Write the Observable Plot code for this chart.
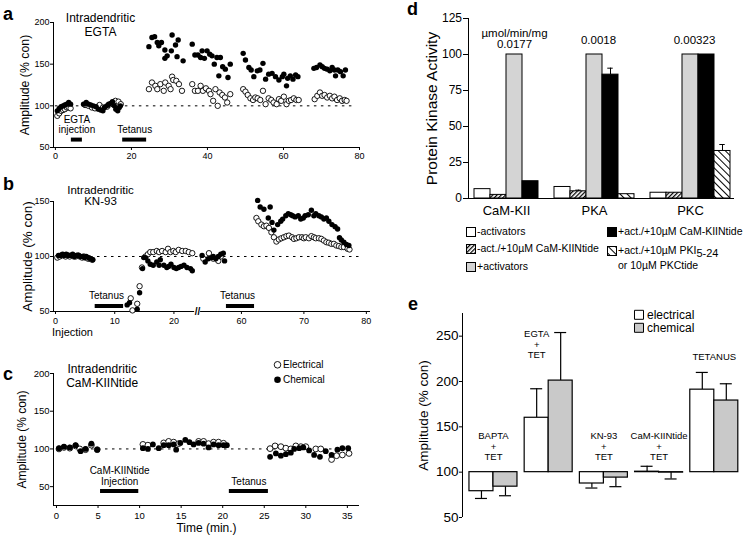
<!DOCTYPE html>
<html><head><meta charset="utf-8">
<script src="https://cdn.jsdelivr.net/npm/d3@7"></script>
<script src="https://cdn.jsdelivr.net/npm/@observablehq/plot@0.6"></script>
<style>
body{margin:0;background:#fff;}
#fig{position:relative;width:751px;height:544px;overflow:hidden;font-family:"Liberation Sans",Arial,Helvetica,sans-serif;color:#000;background:#fff;}
.letter{position:absolute;font-weight:bold;font-size:18px;line-height:1;}
.leg{position:absolute;font-size:10.5px;line-height:11px;white-space:nowrap;}
.sw{position:absolute;}
</style></head>
<body>
<svg width="0" height="0" style="position:absolute"><defs>
<pattern id="hatchDense" width="3" height="3" patternUnits="userSpaceOnUse" patternTransform="rotate(45)"><rect width="3" height="3" fill="#fff"/><line x1="0.6" y1="0" x2="0.6" y2="3" stroke="#000" stroke-width="1.3"/></pattern>
<pattern id="hatchWide" width="5" height="5" patternUnits="userSpaceOnUse" patternTransform="rotate(-45)"><rect width="5" height="5" fill="#fff"/><line x1="0.5" y1="0" x2="0.5" y2="5" stroke="#000" stroke-width="1"/></pattern>
</defs></svg>
<div id="fig"></div>
<script>
// ---------- Panel a data (time in min, amplitude % con) ----------
const aElectrical = [[0.5,88],[1,91],[1.5,94],[2,95],[2.5,96],[3,98],[3.5,98],[4,97],
[7.8,101],[8.7,100],[9.6,98],[10.4,97],[11.6,101],[12.5,98],[13.6,99],[14.5,102],[15.2,104],[15.8,106],[16.6,105],[17.2,102],
[24.6,120],[25.4,128],[26.3,124],[26.8,120],[27.6,126],[28.5,118],[28.9,128],[29.8,124],[30.3,120],[30.7,135],[31,131],[31.8,130],[32.5,126],[33.3,118],
[36,126],[36.7,118],[37.5,118],[38.2,124],[38.8,118],[39.6,121],[40.4,118],[40.8,114],[41.5,106],[42.1,120],[42.7,100],[43.2,116],[43.9,113],[44.6,110],[45.2,104],[46,114],
[49.4,120],[50,117],[50.6,113],[51.3,109],[52,107],[52.6,110],[53.2,109],[53.9,107],[54.6,118],[55.3,102],[56.1,109],[56.8,107],[57.4,104],[58.2,102],[58.8,108],[59.4,106],[60.1,111],[60.8,102],[61.4,106],[62,107],[62.7,109],[63.4,107],[64,107],
[68.2,108],[68.9,112],[69.6,116],[70.2,112],[70.8,113],[71.5,110],[72.2,112],[72.8,109],[73.4,111],[74.1,107],[74.8,109],[75.4,106],[76.1,107],[76.6,106]];
const aChemical = [[0.5,94],[1,97],[1.5,99],[2,100],[2.5,101],[3,102],[3.5,104],[4,102],
[7.4,102],[8.1,104],[8.7,102],[9.3,101],[10,100],[10.7,99],[11.3,96],[11.9,95],[12.5,94],[12.9,98],[13.5,100],[14,102],[14.6,103],[15,105],[15.5,100],[15.9,96],[16.4,94],[16.8,98],[17.1,100],
[24.6,171],[25.4,182],[26.1,183],[26.8,176],[27.2,172],[27.9,176],[28.8,167],[28.8,157],[29.4,160],[30.5,166],[30.7,185],[31.6,173],[32,159],[32.3,179],[33.6,154],
[36,174],[36.7,161],[37.5,161],[38.2,158],[38.6,166],[39.2,157],[39.9,166],[40.6,162],[41.2,160],[41.8,150],[42.5,158],[43,136],[43.4,158],[44,147],[44.7,144],[45.4,134],[46,150],
[49.4,163],[50,155],[50.9,146],[51.5,143],[52.2,135],[53.1,142],[53.8,143],[54.6,151],[55.3,132],[56.1,138],[57,139],[57.9,135],[58.8,131],[59.7,135],[60.1,138],[60.8,124],[61.1,133],[61.8,136],[62.5,132],[63.2,137],[63.8,135],
[68,145],[68.7,146],[69.6,149],[70.2,147],[70.8,145],[71.5,144],[72.2,142],[72.8,146],[73.4,143],[73.7,136],[74.3,143],[75,141],[75.7,136],[76.3,143]];
const aEventLabels = ["EGTA\ninjection", "Tetanus"];
const aEventStart = [4.2, 17.7];
const aEventEnd = [7.1, 24];
const aXTicks = [0, 20, 40, 60, 80];
const aYTicks = [50, 100, 150, 200];

// ---------- Panel b data ----------
const bElectrical = [[0.3,99],[0.7,100],[1.0,101],[1.4,101],[1.7,100],[2.1,101],[2.4,100],[2.8,101],[3.1,100],[3.4,100],[3.8,101],[4.1,100],[4.5,99],[4.8,100],[5.1,99],[5.5,98],[5.8,98],[6.2,97],
[12.7,62],[13.0,51],[13.8,57],[14.2,73],[14.6,90],
[15.2,100],[15.6,102],[16,104],[16.5,104],[17.1,105],[17.5,104],[18,105],[18.6,104],[19,107],[19.4,104],[19.9,105],[20.3,104],[20.8,106],[21.4,105],[22,105],[22.5,104],[23.1,103],
[53.9,98],[54.8,103],[55.5,98],[56.3,96],[56.7,100],
[62.4,135],[62.7,132],[63.2,129],[63.6,127.5],[64.0,128],[64.4,126],[64.8,122],[65.2,117.5],[65.6,113.6],[66.0,115.5],[66.4,116.6],[66.8,117.5],[67.2,118.5],[67.6,119],[68.1,117.5],[68.4,116],[68.8,116.6],[69.2,117.5],[69.7,117.5],[70.0,116.6],[70.3,117.5],[70.8,116.6],[71.2,118.5],[71.6,117.5],[71.9,116.6],[72.4,116.6],[72.8,116],[73.2,114.5],[73.6,113],[74.0,112.5],[74.4,111.5],[74.8,111.5],[75.2,110],[75.6,109.5],[76.0,108.6],[76.4,108.6],[77.0,107],[77.3,106.4]];
const bChemical = [[0.5,101],[0.8,101],[1.2,102],[1.5,101],[1.8,102],[2.2,101],[2.5,101],[2.9,102],[3.2,100],[3.5,101],[3.9,101],[4.2,100],[4.6,100],[4.9,99],[5.2,100],[5.6,99],[5.9,98],[6.3,97],
[12.1,56],[12.5,58],[13.8,52],[14.2,67],[14.7,89],
[14.9,99],[15.2,99],[15.6,96],[16,93],[16.5,92],[17.1,95],[17.5,92],[17.7,97],[18.3,92],[18.8,90],[19.1,91],[19.5,93],[20,90],[20.4,89],[20.8,90],[21.2,91],[21.7,92],[22.2,90],[22.8,89],[23.1,87],
[53.7,101],[54.2,95],[54.7,98],[55.3,99],[55.5,100],[55.9,98],[56.3,100],[56.7,102],[57.1,103],[57.3,96],
[62.6,151],[63.0,145],[63.6,143],[64.3,135],[64.6,145],[64.9,131],[65.2,124],[65.8,129],[66.3,132],[66.6,134],[67.1,137],[67.5,139],[67.9,138],[68.2,137],[68.6,136],[69.1,137],[69.5,134],[69.9,135],[70.2,137],[70.7,138],[71.2,142],[71.6,137],[71.9,139],[72.4,137],[72.8,136],[73.2,134],[73.6,135],[74.0,132],[74.5,129],[75.0,127],[75.4,125],[75.7,117],[76.0,115],[76.4,113],[76.8,111],[77.2,110]];
const bEventLabels = ["Tetanus", "Tetanus"];
const bEventStart = [6.7, 57.6];
const bEventEnd = [11.5, 62.1];
const bXTicks = [0, 10, 20, 60, 70, 80];
const bYTicks = [50, 100, 150];

// ---------- Panel c data ----------
const cElectrical = [[0.3,100],[0.9,102],[1.6,101],[2.3,104],[2.8,100],[3.5,99],[4.2,105],[4.9,99],
[10.4,106],[11,105],[12.9,108],[13.5,110],[14.1,109],[14.7,107],[17.1,110],[17.7,110],[18.3,107],[18.9,109],[19.5,109],[20.1,107.5],
[25.7,100.4],[26.3,104],[27,103],[27.6,101],[28.2,100],[28.8,104],[29.4,103],[30,103],[31.2,100],[31.8,100],[33.1,86],[33.7,91],[34.4,92],[35.2,94]];
const cChemical = [[0.3,101],[0.9,103],[1.6,102],[2.3,105],[2.9,97],[3.5,100],[4.2,107],[4.9,99],
[10.4,101],[11,100],[11.6,106],[12.3,101],[12.9,105],[13.5,105],[14.1,106],[14.4,99],[14.9,108],[15.5,112],[16,109],[16.5,106],[17.1,108],[17.7,107],[18.3,102],[18.9,106],[19.5,105],[20.1,105],[20.5,105],
[25.7,89.5],[26.4,94],[27,91],[27.6,93],[28.2,95],[28.6,100],[29.2,101],[29.7,102],[30.4,98],[31,92],[31.7,89.5],[32.4,97],[33.1,92],[33.8,99],[34.4,101],[35.1,101]];
const cEventLabels = ["CaM-KIINtide\nInjection", "Tetanus"];
const cEventStart = [5.3, 20.8];
const cEventEnd = [9.9, 25.5];
const cXTicks = [0, 5, 10, 15, 20, 25, 30, 35];
const cYTicks = [50, 100, 150, 200];

// ---------- Panel d data ----------
const dKinases = ["CaM-KII", "PKA", "PKC"];
const dSeriesNames = ["-activators", "-act./+10µM CaM-KIINtide", "+activators", "+act./+10µM CaM-KIINtide", "+act./+10µM PKI5-24 or 10µM PKCtide"];
const dMinusAct = [6.5, 8, 4];
const dMinusActNtide = [2.5, 5, 4];
const dPlusAct = [100, 100, 100];
const dPlusActNtide = [12, 86, 100];
const dPlusActPKI = [null, 3, 33];
const dErrMinusActNtide = [0, 0.8, 0];
const dErrPlusActNtide = [0, 4.5, 0];
const dErrPlusActPKI = [null, 0, 4.5];
const dSpecificActivity = ["0.0177", "0.0018", "0.00323"];
const dActivityUnit = "µmol/min/mg";
const dYTicks = [0, 25, 50, 75, 100, 125];

// ---------- Panel e data ----------
const eConditions = ["BAPTA\n+\nTET", "EGTA\n+\nTET", "KN-93\n+\nTET", "CaM-KIINtide\n+\nTET", "TETANUS"];
const eElectrical = [79, 160, 87.5, 100.5, 191];
const eElectricalErr = [8, 32, 5, 6, 19];
const eChemical = [84, 201, 94, 99.5, 179];
const eChemicalErr = [10, 53, 10, 7, 18.5];
const eYTicks = [50, 100, 150, 200, 250];

// ---------- helpers ----------
const FONT = '"Liberation Sans", Arial, Helvetica, sans-serif';
const fig = document.getElementById("fig");
function put(node, left, top) { node.style.position = "absolute"; node.style.left = left + "px"; node.style.top = top + "px"; fig.appendChild(node); }
const styleStr = fs => `background:transparent;font-family:${FONT};font-size:${fs}px;overflow:visible;color:#000;`;
const events = (labels, s, e) => labels.map((label, i) => ({label, start: s[i], end: e[i]}));
const px = d => d[0], py = d => d[1];
const C = {textAnchor: "middle", lineAnchor: "middle"};
const L = {textAnchor: "start", lineAnchor: "middle"};
const yLabel = (text, dx, fontSize) => Plot.text([text], {frameAnchor: "left", rotate: -90, dx, fontSize, ...C});

// ---------- Panel a ----------
const aEv = events(aEventLabels, aEventStart, aEventEnd);
put(Plot.plot({
  width: 375, height: 170, marginLeft: 53, marginRight: 16, marginTop: 22, marginBottom: 23,
  style: styleStr(9),
  x: {domain: [-0.5, 80]}, y: {domain: [50, 200]},
  marks: [
    Plot.ruleY([100], {x1: 0, x2: 78.5, stroke: "#000", strokeWidth: 1, strokeDasharray: "2.5,4.5"}),
    Plot.ruleX([-0.5], {stroke: "#000"}), Plot.ruleY([50], {stroke: "#000"}),
    Plot.axisX({ticks: aXTicks, tickSize: 3, tickPadding: 2, label: null, fontSize: 9}),
    Plot.axisY({ticks: aYTicks, tickSize: 3, tickPadding: 1, label: null, fontSize: 9}),
    Plot.dot(aElectrical, {x: px, y: py, r: 2.7, fill: "white", stroke: "black", strokeWidth: 0.9}),
    Plot.dot(aChemical, {x: px, y: py, r: 2.7, fill: "black"}),
    Plot.ruleY(aEv, {x1: "start", x2: "end", y: 59.5, stroke: "black", strokeWidth: 4}),
    Plot.text(aEv, {x: d => (d.start + d.end) / 2, y: 59.5, text: "label", textAnchor: "middle", lineAnchor: "bottom", dy: -6.5, fontSize: 10, lineHeight: 1}),
    Plot.text(["Intradendritic\nEGTA"], {frameAnchor: "top-left", dx: 47, dy: 2, fontSize: 12, lineHeight: 1.15, ...C}),
    yLabel("Amplitude (% con)", -28, 12.3)
  ]
}), 0, 0);

// ---------- Panel b (broken time axis) ----------
const bWarp = t => t < 40 ? t : 31.4 + (t - 60) * 1.055;
const bTickPos = bXTicks.map(bWarp);
const bTickLabel = new Map(bTickPos.map((v, i) => [v, String(bXTicks[i])]));
const bEv = events(bEventLabels, bEventStart, bEventEnd);
const bx = d => bWarp(d[0]);
put(Plot.plot({
  width: 375, height: 165, marginLeft: 53, marginRight: 5, marginTop: 26, marginBottom: 29,
  style: styleStr(9),
  x: {domain: [-0.34, 53.2]}, y: {domain: [50, 150]},
  marks: [
    Plot.ruleY([100], {x1: 0, x2: bWarp(79.5), stroke: "#000", strokeWidth: 1, strokeDasharray: "2.5,4.5"}),
    Plot.ruleX([-0.34], {stroke: "#000"}), Plot.ruleY([50], {stroke: "#000"}),
    Plot.ruleY([50], {x1: 23.5, x2: 24.5, stroke: "white", strokeWidth: 3}),
    Plot.text(["//"], {x: 24, y: 50, fontSize: 10, fontWeight: "bold"}),
    Plot.axisX({ticks: bTickPos, tickFormat: v => bTickLabel.get(v) ?? "", tickSize: 3, tickPadding: 3, label: null, fontSize: 9}),
    Plot.axisY({ticks: bYTicks, tickSize: 3, tickPadding: 1, label: null, fontSize: 9}),
    Plot.dot(bElectrical, {x: bx, y: py, r: 2.7, fill: "white", stroke: "black", strokeWidth: 0.9}),
    Plot.dot(bChemical, {x: bx, y: py, r: 2.7, fill: "black"}),
    Plot.ruleY(bEv, {x1: d => bWarp(d.start), x2: d => bWarp(d.end), y: 55, stroke: "black", strokeWidth: 4}),
    Plot.text(bEv, {x: d => bWarp((d.start + d.end) / 2) - 0.5, y: 55, text: "label", textAnchor: "middle", lineAnchor: "bottom", dy: -7, fontSize: 10}),
    Plot.text(["Injection"], {frameAnchor: "bottom-left", dx: 19, dy: 20.7, fontSize: 11, ...C}),
    Plot.text(["Intradendritic\nKN-93"], {frameAnchor: "top-left", dx: 47, dy: -5.5, fontSize: 11.5, lineHeight: 1.0, ...C}),
    yLabel("Amplitude (% con)", -26, 13.5)
  ]
}), 0, 175);

// ---------- Panel c ----------
const cEv = events(cEventLabels, cEventStart, cEventEnd);
put(Plot.plot({
  width: 375, height: 204, marginLeft: 53, marginRight: 16, marginTop: 33, marginBottom: 39,
  style: styleStr(9.5),
  x: {domain: [-0.36, 36.46]}, y: {domain: [25, 200]},
  marks: [
    Plot.ruleY([100], {x1: 0, x2: 35.5, stroke: "#000", strokeWidth: 1, strokeDasharray: "2.5,4.5"}),
    Plot.ruleX([-0.36], {stroke: "#000"}), Plot.ruleY([25], {stroke: "#000"}),
    Plot.axisX({ticks: cXTicks, tickSize: 3, tickPadding: 3.5, label: null, fontSize: 9.5}),
    Plot.axisY({ticks: cYTicks, tickSize: 3, tickPadding: 1, label: null, fontSize: 9.5}),
    Plot.dot(cElectrical, {x: px, y: py, r: 2.9, fill: "white", stroke: "black", strokeWidth: 0.9}),
    Plot.dot(cChemical, {x: px, y: py, r: 2.9, fill: "black"}),
    Plot.ruleY(cEv, {x1: "start", x2: "end", y: 44.3, stroke: "black", strokeWidth: 4}),
    Plot.text(cEv, {x: d => (d.start + d.end) / 2, y: 44.3, text: "label", textAnchor: "middle", lineAnchor: "bottom", dy: -6, fontSize: 10, lineHeight: 1.1}),
    Plot.text(["Intradendritic\nCaM-KIINtide"], {frameAnchor: "top-left", dx: 48.7, dy: 2.3, fontSize: 12, lineHeight: 1.14, ...C}),
    Plot.dot(["Electrical"], {frameAnchor: "top-left", dx: 224, dy: -8.7, r: 3.3, fill: "white", stroke: "black", strokeWidth: 0.9}),
    Plot.dot(["Chemical"], {frameAnchor: "top-left", dx: 224, dy: 6.3, r: 3.3, fill: "black"}),
    Plot.text(["Electrical"], {frameAnchor: "top-left", dx: 229.5, dy: -8.7, fontSize: 10, ...L}),
    Plot.text(["Chemical"], {frameAnchor: "top-left", dx: 229.5, dy: 6.3, fontSize: 10, ...L}),
    Plot.text(["Time (min.)"], {frameAnchor: "bottom", dy: 22.5, fontSize: 12, ...C}),
    yLabel("Amplitude (% con)", -31, 12)
  ]
}), 0, 340);

// ---------- Panel d ----------
const dValues = [dMinusAct, dMinusActNtide, dPlusAct, dPlusActNtide, dPlusActPKI];
const dErrors = [null, dErrMinusActNtide, null, dErrPlusActNtide, dErrPlusActPKI];
const dFills = ["white", "url(#hatchDense)", "#d4d4d4", "black", "url(#hatchWide)"];
const dBars = [], dCenters = [];
let slot = 0;
dKinases.forEach((k, g) => {
  const start = slot; let j = 0;
  dValues.forEach((vals, s) => {
    const v = vals[g];
    if (v == null) return;
    dBars.push({kinase: k, group: g, series: s, value: v, err: (dErrors[s] && dErrors[s][g]) || 0, x1: start + j, x2: start + j + 1});
    j++;
  });
  dCenters.push((2 * start + j) / 2);
  slot = start + j + 1;
});
const dCenterName = new Map(dCenters.map((c, i) => [c, dKinases[i]]));
const dErrBars = dBars.filter(b => b.err > 0);
const dGray = dBars.filter(b => b.series === 2);
put(Plot.plot({
  width: 361, height: 220, marginLeft: 78, marginRight: 17, marginTop: 18, marginBottom: 22,
  style: styleStr(12),
  x: {domain: [-0.375, 16.25]}, y: {domain: [0, 125]},
  marks: [
    ...dFills.map((f, s) => Plot.rect(dBars.filter(b => b.series === s), {x1: "x1", x2: "x2", y1: 0, y2: "value", fill: f, stroke: "black", strokeWidth: 1})),
    Plot.ruleX(dErrBars, {x: d => (d.x1 + d.x2) / 2, y1: "value", y2: d => d.value + d.err, stroke: "black", strokeWidth: 1}),
    Plot.ruleY(dErrBars, {y: d => d.value + d.err, x1: d => (d.x1 + d.x2) / 2 - 0.17, x2: d => (d.x1 + d.x2) / 2 + 0.17, stroke: "black", strokeWidth: 1}),
    Plot.ruleX([-0.375], {stroke: "#000"}), Plot.ruleY([0], {stroke: "#000"}),
    Plot.axisY({ticks: dYTicks, tickSize: 5, tickPadding: 1.5, label: null, fontSize: 12}),
    Plot.axisX({ticks: dCenters, tickFormat: v => dCenterName.get(v) ?? "", tickSize: 0, tickPadding: 7, label: null, fontSize: 13}),
    Plot.text(dGray.filter(b => b.group === 0), {x: d => (d.x1 + d.x2) / 2, y: 100, text: d => dActivityUnit + "\n" + dSpecificActivity[d.group], textAnchor: "middle", lineAnchor: "bottom", dy: -7, fontSize: 11.5, lineHeight: 0.95}),
    Plot.text(dGray.filter(b => b.group > 0), {x: d => (d.x1 + d.x2) / 2 + 0.25, y: 100, text: d => dSpecificActivity[d.group], textAnchor: "middle", lineAnchor: "bottom", dy: -11, fontSize: 11.5}),
    yLabel("Protein Kinase Activity", -36, 15.5)
  ]
}), 390, 0);

// legend d (HTML)
function swatch(fill, left, top) {
  const s = document.createElementNS("http://www.w3.org/2000/svg", "svg");
  s.setAttribute("width", 10); s.setAttribute("height", 10); s.setAttribute("class", "sw");
  s.innerHTML = `<rect x="0.5" y="0.5" width="9" height="9" fill="${fill}" stroke="#000" stroke-width="1"/>`;
  put(s, left, top);
}
function legText(html, left, top) { const d = document.createElement("div"); d.className = "leg"; d.innerHTML = html; put(d, left, top); }
const legRows = [
  {s: 0, col: 0, cy: 232, html: "-activators"},
  {s: 1, col: 0, cy: 249, html: "-act./+10µM CaM-KIINtide"},
  {s: 2, col: 0, cy: 267, html: "+activators"},
  {s: 3, col: 1, cy: 232, html: "+act./+10µM CaM-KIINtide"},
  {s: 4, col: 1, cy: 251, html: "+act./+10µM PKI<span style=\"position:relative;top:3px;font-size:11px\">5-24</span>"}
];
legRows.forEach(r => {
  const sx = r.col === 0 ? 466 : 607, tx = r.col === 0 ? 477 : 618;
  swatch(dFills[r.s], sx, r.cy - 5);
  legText(r.html, tx, r.cy - 6);
});
legText("or 10µM PKCtide", 618, 266 - 6);

// ---------- Panel e ----------
const eStride = 2.3;
const eBars = [];
eConditions.forEach((c, i) => {
  eBars.push({cond: c, i, type: "electrical", value: eElectrical[i], err: eElectricalErr[i], x1: i * eStride, x2: i * eStride + 1});
  eBars.push({cond: c, i, type: "chemical", value: eChemical[i], err: eChemicalErr[i], x1: i * eStride + 1, x2: i * eStride + 2});
});
const eEnd = d => d.value >= 100 ? d.value + d.err : d.value - d.err;
const eMid = d => (d.x1 + d.x2) / 2;
// label placement (layout only): x offset within group, y level in axis units
const eLabelX = [1, 0.5, 1, 1, 1];
const eLabelY = [128.4, 241, 128.4, 128.4, 227.8];
const eLabels = eConditions.map((c, i) => ({text: c, x: i * eStride + eLabelX[i], y: eLabelY[i]}));
put(Plot.plot({
  width: 361, height: 254, marginLeft: 72, marginRight: 6, marginTop: 23, marginBottom: 27,
  style: styleStr(13.5),
  x: {domain: [-0.29, 11.5], axis: null}, y: {domain: [50, 275]},
  marks: [
    Plot.ruleX(eBars, {x: eMid, y1: "value", y2: eEnd, stroke: "black", strokeWidth: 1.2}),
    Plot.ruleY(eBars, {y: eEnd, x1: d => eMid(d) - 0.25, x2: d => eMid(d) + 0.25, stroke: "black", strokeWidth: 1.2}),
    Plot.rect(eBars.filter(d => d.type === "electrical"), {x1: "x1", x2: "x2", y1: 100, y2: "value", fill: "white", stroke: "black", strokeWidth: 1.2}),
    Plot.rect(eBars.filter(d => d.type === "chemical"), {x1: "x1", x2: "x2", y1: 100, y2: "value", fill: "#c9c9c9", stroke: "black", strokeWidth: 1.2}),
    Plot.ruleX([-0.29], {stroke: "#000"}),
    Plot.axisY({ticks: eYTicks, tickSize: 3, tickPadding: 1, label: null, fontSize: 13.5}),
    Plot.text(eLabels, {x: "x", y: "y", text: "text", fontSize: 9.5, lineHeight: 1.08, fill: "black", ...C}),
    Plot.dot(["electrical"], {frameAnchor: "top-left", dx: 176.5, dy: 1.3, symbol: "square", r: 5.08, fill: "white", stroke: "black", strokeWidth: 1}),
    Plot.dot(["chemical"], {frameAnchor: "top-left", dx: 176.5, dy: 14.3, symbol: "square", r: 5.08, fill: "#c9c9c9", stroke: "black", strokeWidth: 1}),
    Plot.text(["electrical"], {frameAnchor: "top-left", dx: 184.5, dy: 1.3, fontSize: 12, ...L}),
    Plot.text(["chemical"], {frameAnchor: "top-left", dx: 184.5, dy: 14.3, fontSize: 12, ...L}),
    yLabel("Amplitude (% con)", -39, 13.5)
  ]
}), 390, 290);

// panel letters
[["a", 3, 4.8], ["b", 3, 174.8], ["c", 3, 364.8], ["d", 407, -0.2], ["e", 408, 294.8]].forEach(([t, l, tp]) => {
  const d = document.createElement("div"); d.className = "letter"; d.textContent = t; put(d, l, tp);
});
</script>
</body></html>
